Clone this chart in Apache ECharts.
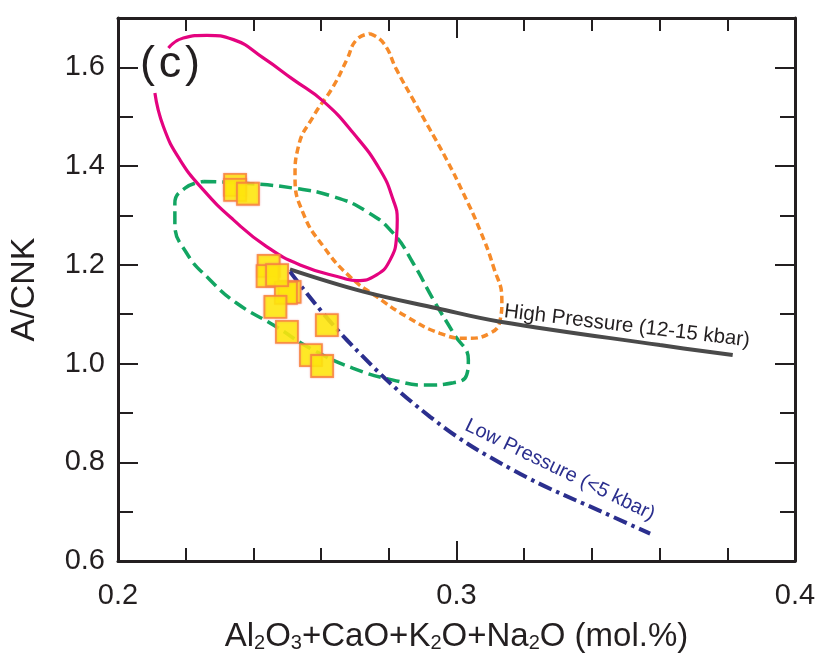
<!DOCTYPE html>
<html>
<head>
<meta charset="utf-8">
<script src="https://cdn.jsdelivr.net/npm/echarts@6/dist/echarts.min.js"></script>
<style>html,body{margin:0;padding:0;background:#fff}#c{width:821px;height:662px}</style>
</head>
<body>
<div id="c"></div>
<script>
// ---- data ----
const xTickLabels = ['0.2', '0.3', '0.4'];
const yTickLabels = ['0.6', '0.8', '1.0', '1.2', '1.4', '1.6'];

// samples (yellow squares): [Al2O3+CaO+K2O+Na2O, A/CNK]
const samples = [
  [0.2346, 1.362], [0.2346, 1.352], [0.2384, 1.344],
  [0.2445, 1.198], [0.2442, 1.177],
  [0.2507, 1.145], [0.2496, 1.143],
  [0.2465, 1.115], [0.2470, 1.179],
  [0.2499, 1.064], [0.2617, 1.078],
  [0.2570, 1.017], [0.2603, 0.995]
];

// High pressure trend (12-15 kbar)
const highPressure = [
  [0.2508, 1.1907], [0.2725, 1.1456], [0.2942, 1.1120],
  [0.3129, 1.0848], [0.3601, 1.0374], [0.3816, 1.0172]
];

// Low pressure trend (<5 kbar)
const lowPressure = [
  [0.2508, 1.1862], [0.2676, 1.0477], [0.2922, 0.8921],
  [0.3168, 0.7840], [0.3463, 0.6892], [0.3572, 0.6556]
];

// magenta field (open where the "(c)" label sits)
const pinkField = [
  [0.2149, 1.6393], [0.2193, 1.6596], [0.2262, 1.6649], [0.2341, 1.6562],
  [0.2429, 1.6191], [0.2518, 1.5751], [0.2607, 1.5310], [0.2695, 1.4669],
  [0.2774, 1.3925], [0.2813, 1.3316], [0.2825, 1.2911], [0.2823, 1.2572],
  [0.2804, 1.2100], [0.2764, 1.1796], [0.2705, 1.1680], [0.2666, 1.1728],
  [0.2538, 1.1998], [0.2439, 1.2369], [0.2341, 1.2911], [0.2252, 1.3519],
  [0.2183, 1.4128], [0.2134, 1.4803], [0.2109, 1.5481]
];

// orange dotted field
const orangeField = [
  [0.2744, 1.6684], [0.2784, 1.6495], [0.2823, 1.5953], [0.2872, 1.5345],
  [0.2922, 1.4736], [0.2971, 1.4128], [0.3020, 1.3452], [0.3069, 1.2708],
  [0.3109, 1.1963], [0.3134, 1.1288], [0.3129, 1.0882], [0.3099, 1.0613],
  [0.3030, 1.0511], [0.2951, 1.0613], [0.2853, 1.0949], [0.2764, 1.1355],
  [0.2685, 1.1761], [0.2607, 1.2369], [0.2547, 1.3047], [0.2523, 1.3789],
  [0.2533, 1.4398], [0.2577, 1.5006], [0.2636, 1.5615], [0.2676, 1.6156],
  [0.2705, 1.6562], [0.2744, 1.6684]
];

// green dashed field
const greenField = [
  [0.2252, 1.3688], [0.2370, 1.3655], [0.2518, 1.3554], [0.2636, 1.3383],
  [0.2735, 1.3079], [0.2813, 1.2641], [0.2872, 1.2032], [0.2932, 1.1288],
  [0.2991, 1.0613], [0.3035, 1.0071], [0.3030, 0.9767], [0.2991, 0.9611],
  [0.2912, 0.9564], [0.2813, 0.9665], [0.2695, 0.9903], [0.2577, 1.0274],
  [0.2459, 1.0781], [0.2351, 1.1221], [0.2272, 1.1694], [0.2203, 1.2235],
  [0.2168, 1.2844], [0.2168, 1.3249], [0.2198, 1.3554], [0.2252, 1.3688]
];

// ---- chart ----
const FONT = '"Liberation Sans", Arial, sans-serif';
const AX = '#231f20';
const chart = echarts.init(document.getElementById('c'), null, {renderer: 'canvas'});

function xAx(pos, show) {
  return {
    type: 'value', position: pos, min: 0.2, max: 0.4, interval: 0.1,
    axisLine: {show: true, onZero: false, lineStyle: {color: AX, width: 3}},
    axisTick: {show: true, inside: true, length: 20, lineStyle: {color: AX, width: 2}},
    minorTick: {show: true, splitNumber: 5, length: 13, lineStyle: {color: AX, width: 2}},
    splitLine: {show: false}, minorSplitLine: {show: false},
    axisLabel: {show: show, margin: 20, fontSize: 29, color: AX, fontFamily: FONT,
      formatter: v => { const s = v.toFixed(1); return xTickLabels.includes(s) ? s : ''; }}
  };
}
function yAx(pos, show) {
  return {
    type: 'value', position: pos, min: 0.6, max: 1.7, interval: 0.2,
    axisLine: {show: true, onZero: false, lineStyle: {color: AX, width: 3}},
    axisTick: {show: true, inside: true, length: 20, lineStyle: {color: AX, width: 2}},
    minorTick: {show: true, splitNumber: 2, length: 15, lineStyle: {color: AX, width: 2}},
    splitLine: {show: false}, minorSplitLine: {show: false},
    axisLabel: {show: show, margin: 13, fontSize: 29, color: AX, fontFamily: FONT,
      formatter: v => { const s = v.toFixed(1); return yTickLabels.includes(s) ? s : ''; }}
  };
}

const xMain = xAx('bottom', true);
xMain.name = '{a|Al}{s|2}{a|O}{s|3}{a|+CaO+K}{s|2}{a|O+Na}{s|2}{a|O (mol.%)}';
xMain.nameLocation = 'middle';
xMain.nameGap = 52;
xMain.nameTextStyle = {
  fontFamily: FONT, color: AX,
  rich: {
    a: {fontSize: 33, fontFamily: FONT, color: AX, lineHeight: 40, verticalAlign: 'bottom'},
    s: {fontSize: 20, fontFamily: FONT, color: AX, lineHeight: 20, verticalAlign: 'bottom'}
  }
};
const yMain = yAx('left', true);
yMain.name = 'A/CNK';
yMain.nameLocation = 'middle';
yMain.nameGap = 76;
yMain.nameTextStyle = {fontSize: 34, fontFamily: FONT, color: AX};

function lineSeries(data, color, width, type, smooth) {
  return {
    type: 'line', data: data, smooth: smooth, showSymbol: false, symbol: 'none',
    silent: true, animation: false, z: 2,
    lineStyle: {color: color, width: width, type: type, cap: 'butt'}
  };
}

chart.setOption({
  animation: false,
  backgroundColor: '#fff',
  grid: {left: 118, right: 26, top: 18, bottom: 101, containLabel: false},
  xAxis: [xMain, xAx('top', false)],
  yAxis: [yMain, yAx('right', false)],
  series: [
    lineSeries(greenField, '#12a562', 3.5, [13, 6], 0.5),
    lineSeries(orangeField, '#f68b2a', 3.5, [7, 4], 0.5),
    lineSeries(pinkField, '#e4037f', 3.2, 'solid', 0.5),
    lineSeries(highPressure, '#4a4a4a', 4, 'solid', 0.4),
    lineSeries(lowPressure, '#2b2f8e', 4, [14, 5, 3.5, 5], 0.4),
    {
      type: 'scatter', data: samples, symbol: 'rect', symbolSize: 22, z: 5,
      itemStyle: {color: '#fff200', borderColor: '#f7823a', borderWidth: 1.8,
        shadowColor: 'rgba(240,120,120,0.6)', shadowBlur: 2}
    }
  ],
  graphic: [
    {type: 'text', left: 140, top: 42, z: 10,
      style: {text: '(\u200Ac\u200A)', fontSize: 45, fontFamily: FONT, fill: AX}},
    {type: 'text', x: 627, y: 326, rotation: -0.119, z: 10,
      style: {text: 'High Pressure (12-15 kbar)', fontSize: 20.5, fontFamily: FONT, fill: AX,
        align: 'center', verticalAlign: 'middle'}},
    {type: 'text', x: 560, y: 470, rotation: -0.452, z: 10,
      style: {text: 'Low Pressure (<5 kbar)', fontSize: 20, fontFamily: FONT, fill: '#2b2f8e',
        align: 'center', verticalAlign: 'middle'}}
  ]
});
</script>
</body>
</html>
